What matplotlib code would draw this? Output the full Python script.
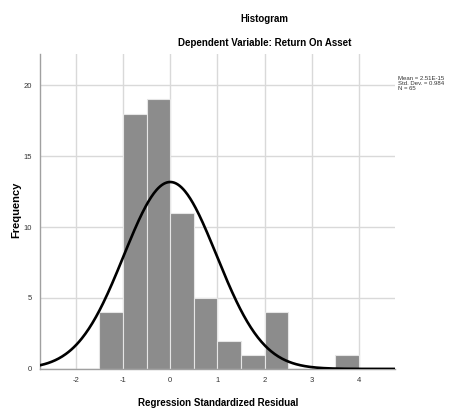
import numpy as np
import matplotlib
matplotlib.use('Agg')
import matplotlib.pyplot as plt

plt.rcParams['font.family'] = ['Liberation Sans', 'DejaVu Sans']
plt.rcParams['axes.unicode_minus'] = False

# bin edges and frequencies
bin_edges = [-1.5, -1.0, -0.5, 0.0, 0.5, 1.0, 1.5, 2.0, 2.5, 3.0, 3.5, 4.0]
counts = [4, 18, 19, 11, 5, 2, 1, 4, 0, 0, 1]
mean_val = 2.51e-15
std_val = 0.984
n_val = 65
x_ticks = [-2, -1, 0, 1, 2, 3, 4]
y_ticks = [0, 5, 10, 15, 20]

fig = plt.figure(figsize=(4.52, 4.09), dpi=100)
ax = fig.add_axes([0.0885, 0.098, 0.785, 0.770])

# gridlines
ax.set_axisbelow(True)
ax.grid(True, color='#d9d9d9', linewidth=1.0)

# bars
lefts = np.array(bin_edges[:-1])
widths = np.diff(bin_edges)
ax.bar(lefts, counts, width=widths, align='edge', color='#8c8c8c',
       edgecolor='#e6e6e6', linewidth=0.8, zorder=2)

# normal curve from the stated mean / std / N
bw = widths[0]
xs = np.linspace(-2.76, 4.76, 400)
ys = n_val * bw / (std_val * np.sqrt(2 * np.pi)) * np.exp(-0.5 * ((xs - mean_val) / std_val) ** 2)
ax.plot(xs, ys, color='black', linewidth=1.9, zorder=3)

ax.set_xlim(-2.76, 4.76)
ax.set_ylim(0, 22.2)
ax.set_xticks(x_ticks)
ax.set_yticks(y_ticks)
ax.tick_params(axis='both', length=0, labelsize=5.5, colors='#333333', pad=6)
for s in ['top', 'right']:
    ax.spines[s].set_visible(False)
for s in ['left', 'bottom']:
    ax.spines[s].set_color('#a0a0a0')
    ax.spines[s].set_linewidth(1.0)

# axis titles
fig.text(0.035, 0.487, 'Frequency', rotation=90, ha='center', va='center',
         fontsize=8, fontweight='bold')
fig.text(0.482, 0.015, 'Regression Standardized Residual', ha='center', va='center',
         fontsize=7, fontweight='bold')

fig.text(0.586, 0.953, 'Histogram', ha='center', va='center', fontsize=7, fontweight='bold')
fig.text(0.586, 0.895, 'Dependent Variable: Return On Asset', ha='center', va='center',
         fontsize=7, fontweight='bold')

fig.text(0.881, 0.815, 'Mean = 2.51E-15\nStd. Dev. = 0.984\nN = 65', ha='left', va='top',
         fontsize=4.3, linespacing=1.0, color='#333333')

fig.savefig('out.png', dpi=100)
